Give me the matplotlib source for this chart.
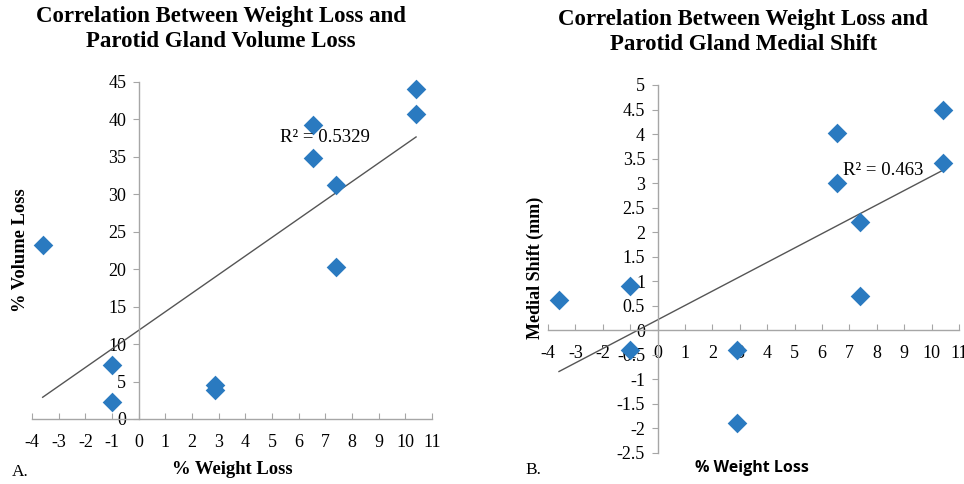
import numpy as np
import matplotlib
matplotlib.use('Agg')
import matplotlib.pyplot as plt

# datos
peso = [-3.6, -1.0, -1.0, 2.85, 2.85, 6.55, 6.55, 7.4, 7.4, 10.4, 10.4]
volumen = [23.3, 7.2, 2.3, 4.5, 3.9, 39.2, 34.8, 31.2, 20.3, 44.0, 40.7]

peso_b = [-3.6, -1.0, -1.0, 2.9, 2.9, 6.55, 6.55, 7.4, 7.4, 10.4, 10.4]
desplazamiento = [0.62, 0.9, -0.4, -0.4, -1.9, 4.02, 3.0, 2.2, 0.7, 4.5, 3.4]

xticks = list(range(-4, 12))
yticks_a = list(range(0, 50, 5))
yticks_b = [-2.5, -2, -1.5, -1, -0.5, 0, 0.5, 1, 1.5, 2, 2.5, 3, 3.5, 4, 4.5, 5]

r2_a = 'R² = 0.5329'
r2_b = 'R² = 0.463'

azul = '#2A7AC0'
gris_eje = '#A6A6A6'
serif = 'Liberation Serif'

plt.rcParams['font.family'] = serif


def fmt(v):
    return ('%g' % v)


def panel(ax, x, y, xlim, ylim, yticks):
    ax.set_xlim(*xlim)
    ax.set_ylim(*ylim)
    for s in ['top', 'right']:
        ax.spines[s].set_visible(False)
    ax.spines['left'].set_position(('data', 0))
    ax.spines['bottom'].set_position(('data', 0))
    for s in ['left', 'bottom']:
        ax.spines[s].set_color(gris_eje)
        ax.spines[s].set_linewidth(1.0)
    ax.set_xticks(xticks)
    ax.set_xticklabels([fmt(v) for v in xticks])
    ax.set_yticks(yticks)
    ax.set_yticklabels([fmt(v) for v in yticks])
    ax.tick_params(axis='x', direction='in', length=4, color=gris_eje,
                   labelsize=13, pad=11)
    ax.tick_params(axis='y', direction='out', length=4, color=gris_eje,
                   labelsize=13, pad=5)
    ax.patch.set_alpha(0)

    # recta de tendencia
    m, b = np.polyfit(x, y, 1)
    xs = np.array([min(x), max(x)])
    ax.plot(xs, m * xs + b, color='#555555', lw=1.0, zorder=2)
    ax.scatter(x, y, marker='D', s=100, color=azul, linewidths=0, zorder=3,
               clip_on=False)


fig = plt.figure(figsize=(9.64, 4.84), dpi=100)

ax1 = fig.add_axes([0.0332, 0.1343, 0.4150, 0.6963])
panel(ax1, peso, volumen, (-4, 11), (0, 45), yticks_a)
ax1.text(5.3, 37.6, r2_a, fontsize=13.5, va='center', ha='left')

ax2 = fig.add_axes([0.5685, 0.0647, 0.4263, 0.7597])
panel(ax2, peso_b, desplazamiento, (-4, 11), (-2.5, 5), yticks_b)
ax2.text(6.75, 3.25, r2_b, fontsize=13.5, va='center', ha='left')

fig.text(0.229, 0.940,
         'Correlation Between Weight Loss and\nParotid Gland Volume Loss',
         ha='center', va='center', fontsize=16.5, fontweight='bold',
         linespacing=1.3)
fig.text(0.771, 0.934,
         'Correlation Between Weight Loss and\nParotid Gland Medial Shift',
         ha='center', va='center', fontsize=16.5, fontweight='bold',
         linespacing=1.3)

fig.text(0.021, 0.483, '% Volume Loss', rotation=90, ha='center',
         va='center', fontsize=13.3, fontweight='bold')
fig.text(0.555, 0.446, 'Medial Shift (mm)', rotation=90, ha='center',
         va='center', fontsize=13, fontweight='bold')

fig.text(0.241, 0.029, '% Weight Loss', ha='center', va='center',
         fontsize=13.4, fontweight='bold')
fig.text(0.780, 0.033, '% Weight Loss', ha='center', va='center',
         fontsize=11.5, fontweight='bold', family='Open Sans')

fig.text(0.012, 0.025, 'A.', ha='left', va='center', fontsize=12.5)
fig.text(0.545, 0.029, 'B.', ha='left', va='center', fontsize=12.5)

fig.savefig('out.png', dpi=100)
